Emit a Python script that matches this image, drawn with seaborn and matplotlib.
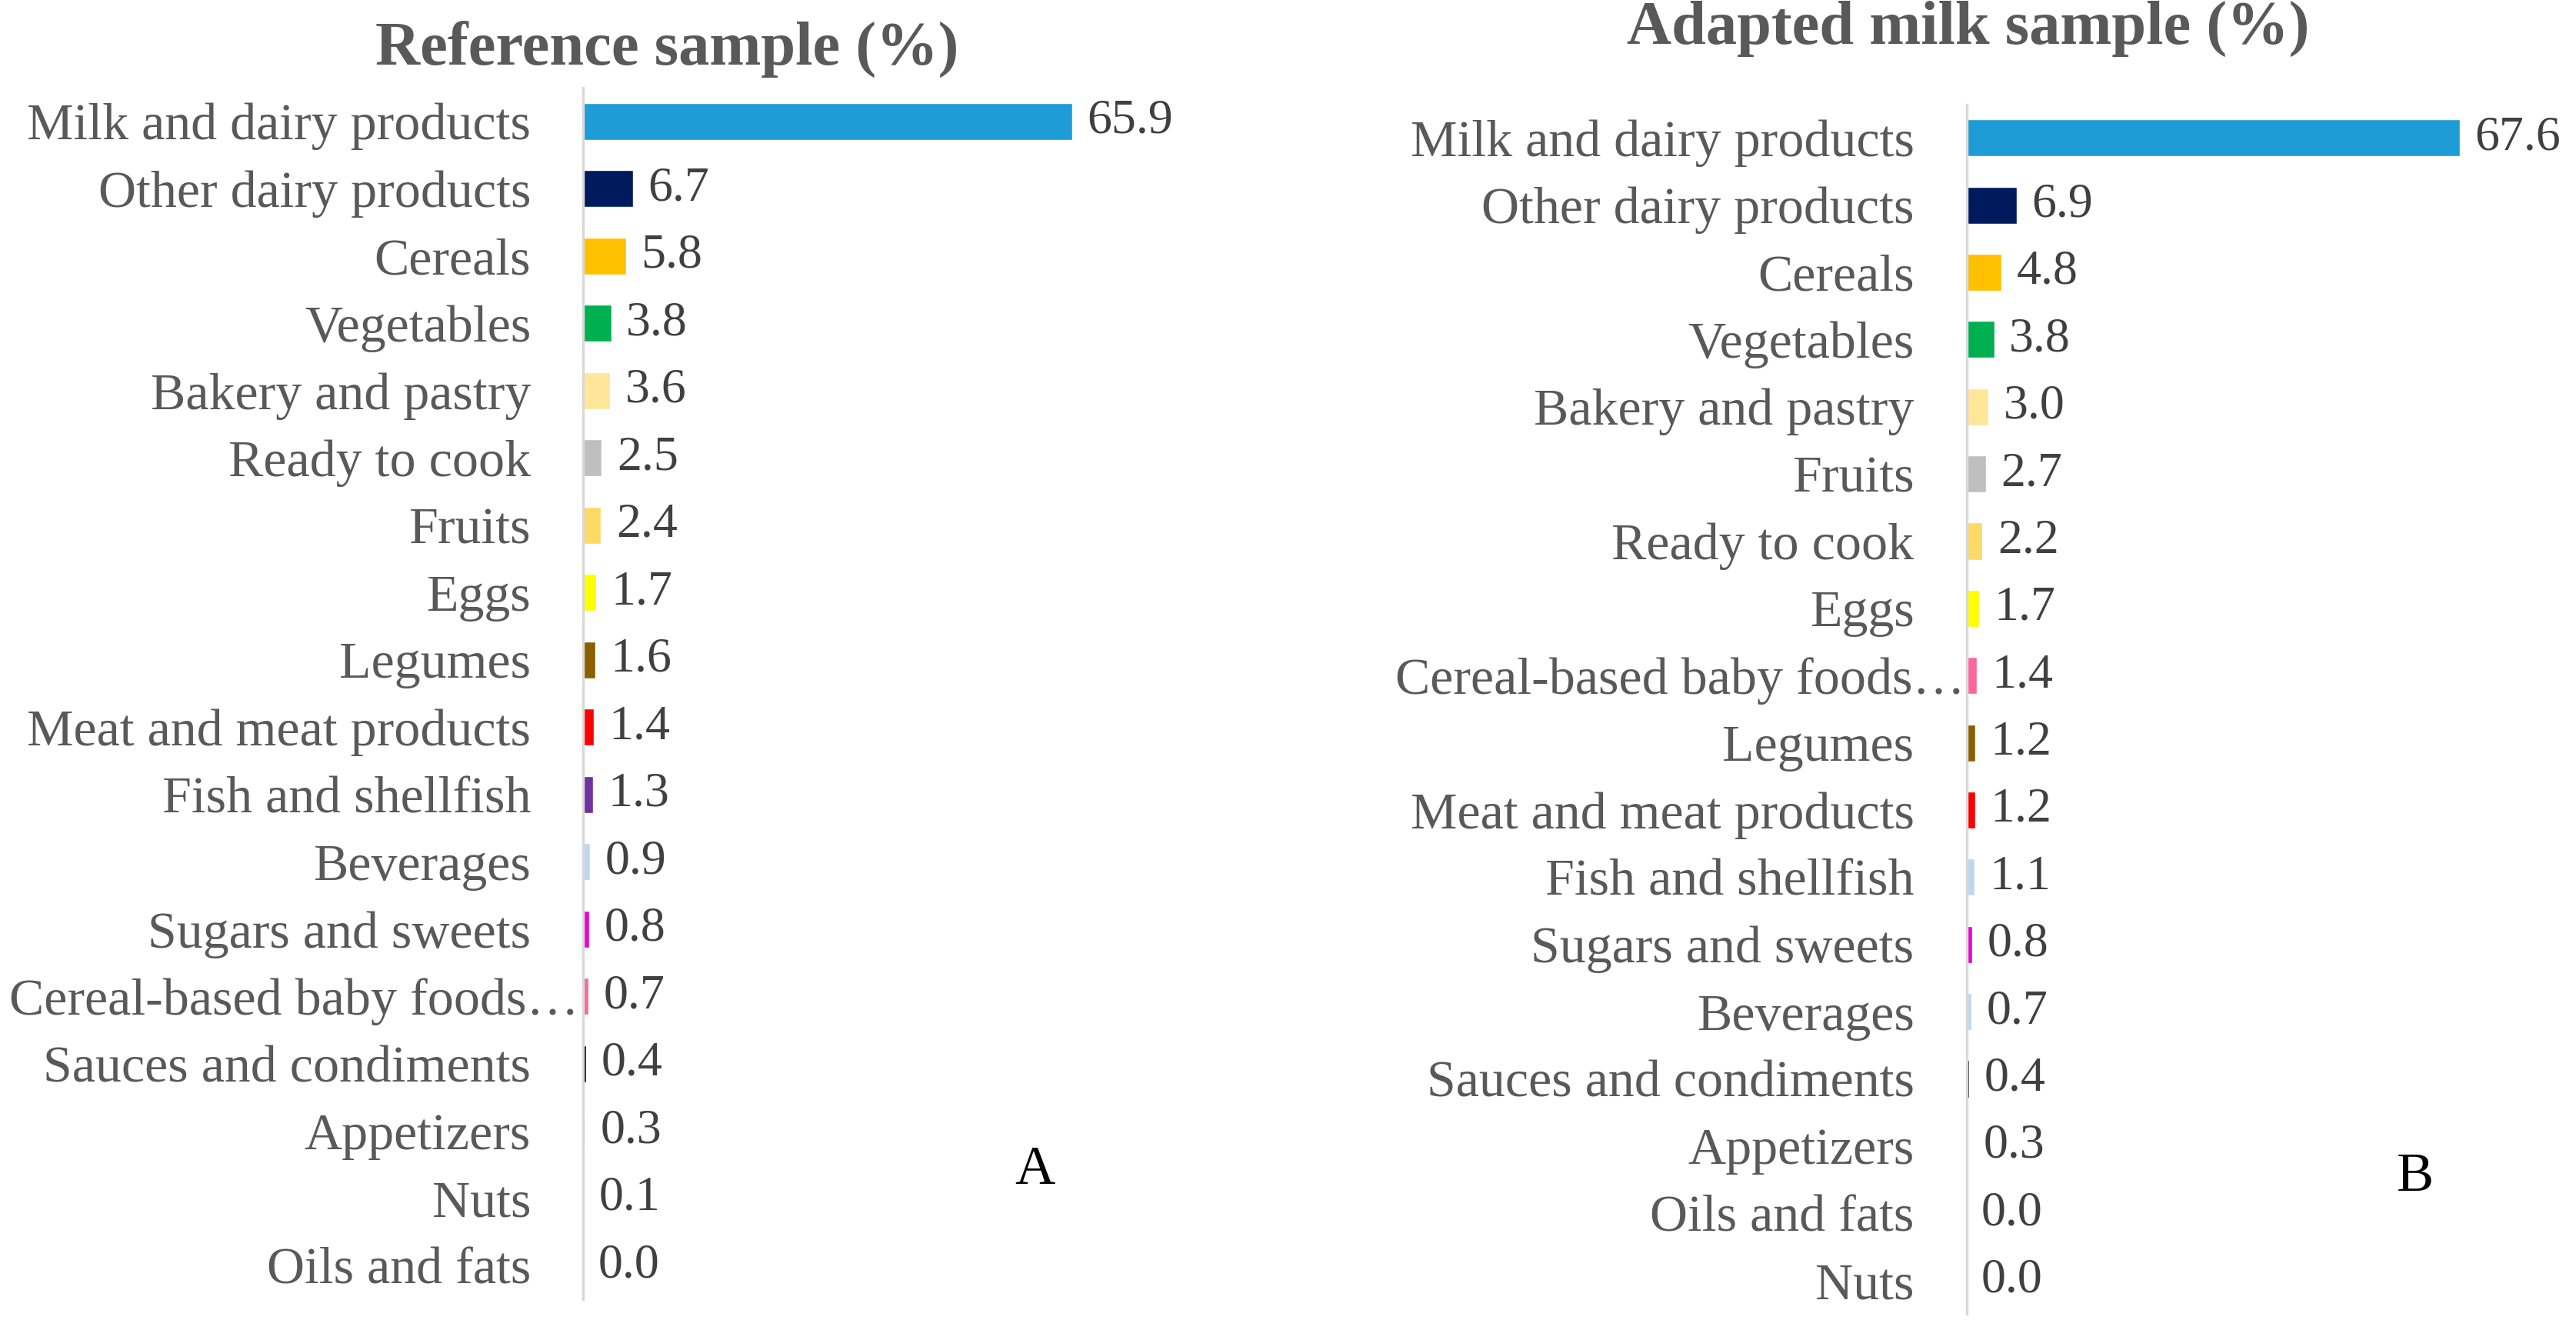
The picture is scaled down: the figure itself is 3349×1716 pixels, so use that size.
import numpy as np
import pandas as pd
import matplotlib
matplotlib.use("Agg")
import matplotlib.pyplot as plt
import matplotlib.transforms as mtransforms
import seaborn as sns

# data - panel A
cats_a = ["Milk and dairy products", "Other dairy products", "Cereals", "Vegetables",
          "Bakery and pastry", "Ready to cook", "Fruits", "Eggs", "Legumes",
          "Meat and meat products", "Fish and shellfish", "Beverages",
          "Sugars and sweets", "Cereal-based baby foods\u2026", "Sauces and condiments",
          "Appetizers", "Nuts", "Oils and fats"]
vals_a = [65.9, 6.7, 5.8, 3.8, 3.6, 2.5, 2.4, 1.7, 1.6, 1.4, 1.3, 0.9, 0.8, 0.7, 0.4, 0.3, 0.1, 0.0]
colors_a = ["#1E9CD7", "#001A5E", "#FFC000", "#00B050", "#FFE699", "#BFBFBF", "#FFD966",
            "#FFFF00", "#8B5E00", "#FF0000", "#7030A0", "#BDD7EE", "#F000D0", "#FF6699",
            "#000000", "#F7F7F7", "#F7F7F7", "#FFFFFF"]

# data - panel B
cats_b = ["Milk and dairy products", "Other dairy products", "Cereals", "Vegetables",
          "Bakery and pastry", "Fruits", "Ready to cook", "Eggs",
          "Cereal-based baby foods\u2026", "Legumes", "Meat and meat products",
          "Fish and shellfish", "Sugars and sweets", "Beverages", "Sauces and condiments",
          "Appetizers", "Oils and fats", "Nuts"]
vals_b = [67.6, 6.9, 4.8, 3.8, 3.0, 2.7, 2.2, 1.7, 1.4, 1.2, 1.2, 1.1, 0.8, 0.7, 0.4, 0.3, 0.0, 0.0]
colors_b = ["#1E9CD7", "#001A5E", "#FFC000", "#00B050", "#FFE699", "#BFBFBF", "#FFD966",
            "#FFFF00", "#FF6699", "#8B5E00", "#FF0000", "#BDD7EE", "#F000D0", "#BDD7EE",
            "#000000", "#FF3399", "#FFFFFF", "#FFFFFF"]

sns.set_style("white")
plt.rcParams['font.family'] = ['Liberation Serif', 'DejaVu Serif']

fig = plt.figure(figsize=(33.49, 17.16), dpi=100)
ax_a = fig.add_axes([0.2264, 0.0156, 0.216, 0.918])
ax_b = fig.add_axes([0.7634, 0.0045, 0.2124, 0.9165])

FS = 49
VFS = 46


def draw(ax, cats, vals, colors, shift):
    df = pd.DataFrame({"cat": cats, "val": vals})
    sns.barplot(data=df, x="val", y="cat", hue="cat", palette=dict(zip(cats, colors)),
                legend=False, width=0.55, ax=ax, saturation=1)
    for c in ax.containers:
        ax.bar_label(c, fmt="%.1f", padding=14, fontsize=VFS, color="#404040")
    ax.set_xlim(0, 75)
    ax.set_ylim(len(cats) - 0.5, -0.5)
    ax.set_xlabel("")
    ax.set_ylabel("")
    ax.set_xticks([])
    for s in ["top", "right", "bottom"]:
        ax.spines[s].set_visible(False)
    ax.spines["left"].set_color("#D9D9D9")
    ax.spines["left"].set_linewidth(2.5)
    ax.tick_params(axis="y", length=0, pad=49, labelsize=FS, labelcolor="#595959")
    # the truncated label sits closer to the axis
    for lab in ax.get_yticklabels():
        if lab.get_text().startswith("Cereal-based"):
            off = mtransforms.ScaledTranslation(shift, 0, fig.dpi_scale_trans)
            lab.set_transform(lab.get_transform() + off)


draw(ax_a, cats_a, vals_a, colors_a, 0.62)
draw(ax_b, cats_b, vals_b, colors_b, 0.66)

fig.text(0.259, 0.963, "Reference sample (%)", ha="center", va="center",
         fontsize=58, fontweight="bold", color="#595959")
fig.text(0.764, 0.978, "Adapted milk sample (%)", ha="center", va="center",
         fontsize=58, fontweight="bold", color="#595959")
fig.text(0.4018, 0.1133, "A", ha="center", va="center", fontsize=52, color="black")
fig.text(0.9375, 0.108, "B", ha="center", va="center", fontsize=52, color="black")

fig.savefig("out.png", dpi=100, facecolor="white")
